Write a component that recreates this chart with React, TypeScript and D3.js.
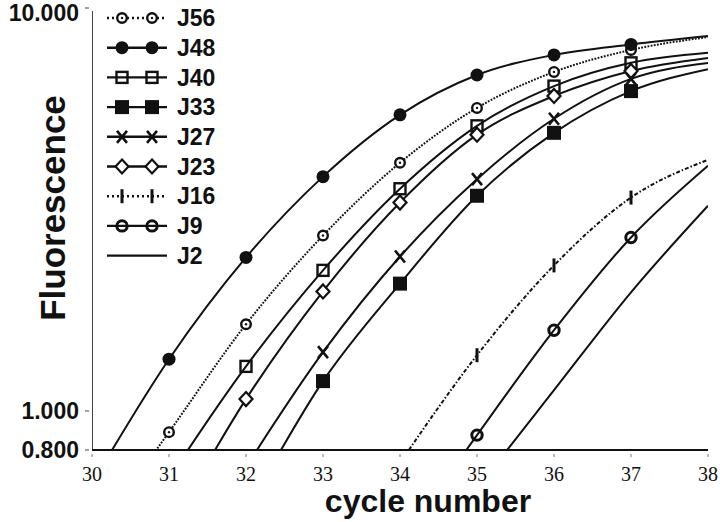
import React from "react";
import * as d3 from "d3";

// cycle numbers on the x axis
const cycles = [30, 31, 32, 33, 34, 35, 36, 37, 38];

// fluorescence per series, one value per cycle
const J56 = [0.48, 0.886, 1.641, 2.725, 4.13, 5.65, 6.94, 7.87, 8.47];
const J48 = [0.66, 1.344, 2.404, 3.815, 5.43, 6.82, 7.65, 8.12, 8.52];
const J40 = [0.34, 0.68, 1.29, 2.233, 3.56, 5.1, 6.4, 7.31, 7.74];
const J33 = [0.126, 0.27, 0.566, 1.186, 2.07, 3.42, 4.9, 6.22, 7.05];
const J27 = [0.17, 0.355, 0.726, 1.399, 2.417, 3.76, 5.31, 6.67, 7.3];
const J23 = [0.25, 0.51, 1.07, 1.98, 3.29, 4.85, 6.05, 6.98, 7.52];
const J16 = [0.05, 0.1, 0.19, 0.38, 0.743, 1.375, 2.297, 3.385, 4.2];
const J9 = [0.03, 0.06, 0.125, 0.24, 0.466, 0.871, 1.586, 2.695, 4.06];
const J2 = [0.02, 0.05, 0.1, 0.19, 0.355, 0.64, 1.126, 1.97, 3.23];

const seriesNames = ["J56", "J48", "J40", "J33", "J27", "J23", "J16", "J9", "J2"];
const seriesValues = [J56, J48, J40, J33, J27, J23, J16, J9, J2];
const seriesMarkers = ["dotCircle", "filledCircle", "openSquare", "filledSquare", "cross", "diamond", "bar", "openCircle", "none"];
const seriesDash = ["1.8,1.4", null, null, null, null, null, "4,2,1.5,2", null, null];

const yTicks = [10, 1, 0.8];
const yTickLabels = ["10.000", "1.000", "0.800"];

const INK = "#111";

function Marker({ type, x, y }: { type: string; x: number; y: number }) {
  switch (type) {
    case "dotCircle":
      return (
        <g>
          <circle cx={x} cy={y} r={4.8} fill="#fff" stroke={INK} strokeWidth={2.4} />
          <circle cx={x} cy={y} r={1.2} fill={INK} />
        </g>
      );
    case "filledCircle":
      return <circle cx={x} cy={y} r={6.5} fill={INK} />;
    case "openSquare":
      return <rect x={x - 5.5} y={y - 5.5} width={11} height={11} fill="none" stroke={INK} strokeWidth={2.4} />;
    case "filledSquare":
      return <rect x={x - 7} y={y - 7} width={14} height={14} fill={INK} />;
    case "cross":
      return (
        <path d={`M${x - 5},${y - 6}L${x + 5},${y + 6}M${x + 5},${y - 6}L${x - 5},${y + 6}`} stroke={INK} strokeWidth={2.6} />
      );
    case "diamond":
      return (
        <path d={`M${x},${y - 7}L${x + 6.5},${y}L${x},${y + 7}L${x - 6.5},${y}Z`} fill="#fff" stroke={INK} strokeWidth={2.2} />
      );
    case "bar":
      return <line x1={x} x2={x} y1={y - 7} y2={y + 7} stroke={INK} strokeWidth={3} />;
    case "openCircle":
      return <circle cx={x} cy={y} r={5.2} fill="none" stroke={INK} strokeWidth={3} />;
    default:
      return null;
  }
}

export default function App() {
  const width = 720;
  const height = 522;

  const xScale = d3.scaleLinear().domain([30, 38]).range([92, 708]);
  const yScale = d3.scaleLog().domain([0.8, 10]).range([450, 8]);

  const line = d3
    .line<number>()
    .x((d, i) => xScale(cycles[i]))
    .y((d) => yScale(d))
    .curve(d3.curveMonotoneX);

  const legendX = 107;
  const legendY = 18;
  const legendStep = 29.7;

  return (
    <svg width={width} height={height} style={{ position: "absolute", left: 0, top: 0, background: "#fff" }}>
      <defs>
        <clipPath id="plot">
          <rect x={92} y={0} width={616} height={450} />
        </clipPath>
      </defs>

      {/* y axis */}
      <line x1={92.5} x2={92.5} y1={yScale(10) + 3} y2={450} stroke="#444" strokeWidth={1} />
      {yTicks.map((t, i) => (
        <g key={t}>
          <line x1={85} x2={89} y1={yScale(t)} y2={yScale(t)} stroke="#444" strokeWidth={1} />
          <text
            x={79}
            y={yScale(t) + (t === 10 ? 5 : 0)}
            dy="0.35em"
            textAnchor="end"
            fontFamily="Liberation Sans, Arial, sans-serif"
            fontWeight="bold"
            fontSize={23}
            fill={INK}
          >
            {yTickLabels[i]}
          </text>
        </g>
      ))}

      {/* x axis */}
      {cycles.map((c) => (
        <g key={c}>
          <line x1={xScale(c)} x2={xScale(c)} y1={454} y2={457} stroke="#777" strokeWidth={1} />
          <text
            x={xScale(c)}
            y={481}
            textAnchor="middle"
            fontFamily="Liberation Serif, Times New Roman, serif"
            fontSize={20}
            fill={INK}
          >
            {c}
          </text>
        </g>
      ))}

      {/* series */}
      <g clipPath="url(#plot)">
        {seriesValues.map((vals, s) => (
          <path
            key={seriesNames[s]}
            d={line(vals) || ""}
            fill="none"
            stroke={INK}
            strokeWidth={2}
            strokeDasharray={seriesDash[s] || undefined}
          />
        ))}
        {seriesValues.map((vals, s) =>
          vals.map((v, i) =>
            cycles[i] > 30 && cycles[i] < 38 && v >= 0.8 ? (
              <Marker key={`${s}-${i}`} type={seriesMarkers[s]} x={xScale(cycles[i])} y={yScale(v)} />
            ) : null
          )
        )}
      </g>

      <line x1={92} x2={708} y1={450} y2={450} stroke={INK} strokeWidth={2} />

      {/* axis titles */}
      <text
        x={428}
        y={512}
        textAnchor="middle"
        fontFamily="Liberation Sans, Arial, sans-serif"
        fontWeight="bold"
        fontSize={32}
        fill={INK}
      >
        cycle number
      </text>
      <text
        transform="translate(65,208) rotate(-90)"
        textAnchor="middle"
        fontFamily="Liberation Sans, Arial, sans-serif"
        fontWeight="bold"
        fontSize={35}
        fill={INK}
      >
        Fluorescence
      </text>

      {/* legend */}
      {seriesNames.map((name, s) => {
        const y = legendY + s * legendStep;
        return (
          <g key={name}>
            <line
              x1={legendX}
              x2={legendX + 60}
              y1={y}
              y2={y}
              stroke={INK}
              strokeWidth={2.4}
              strokeDasharray={seriesDash[s] ? "2,3" : undefined}
            />
            <Marker type={seriesMarkers[s]} x={legendX + 15} y={y} />
            <Marker type={seriesMarkers[s]} x={legendX + 45} y={y} />
            <text
              x={legendX + 70}
              y={y}
              dy="0.36em"
              fontFamily="Liberation Sans, Arial, sans-serif"
              fontWeight="bold"
              fontSize={23}
              fill={INK}
            >
              {name}
            </text>
          </g>
        );
      })}
    </svg>
  );
}
